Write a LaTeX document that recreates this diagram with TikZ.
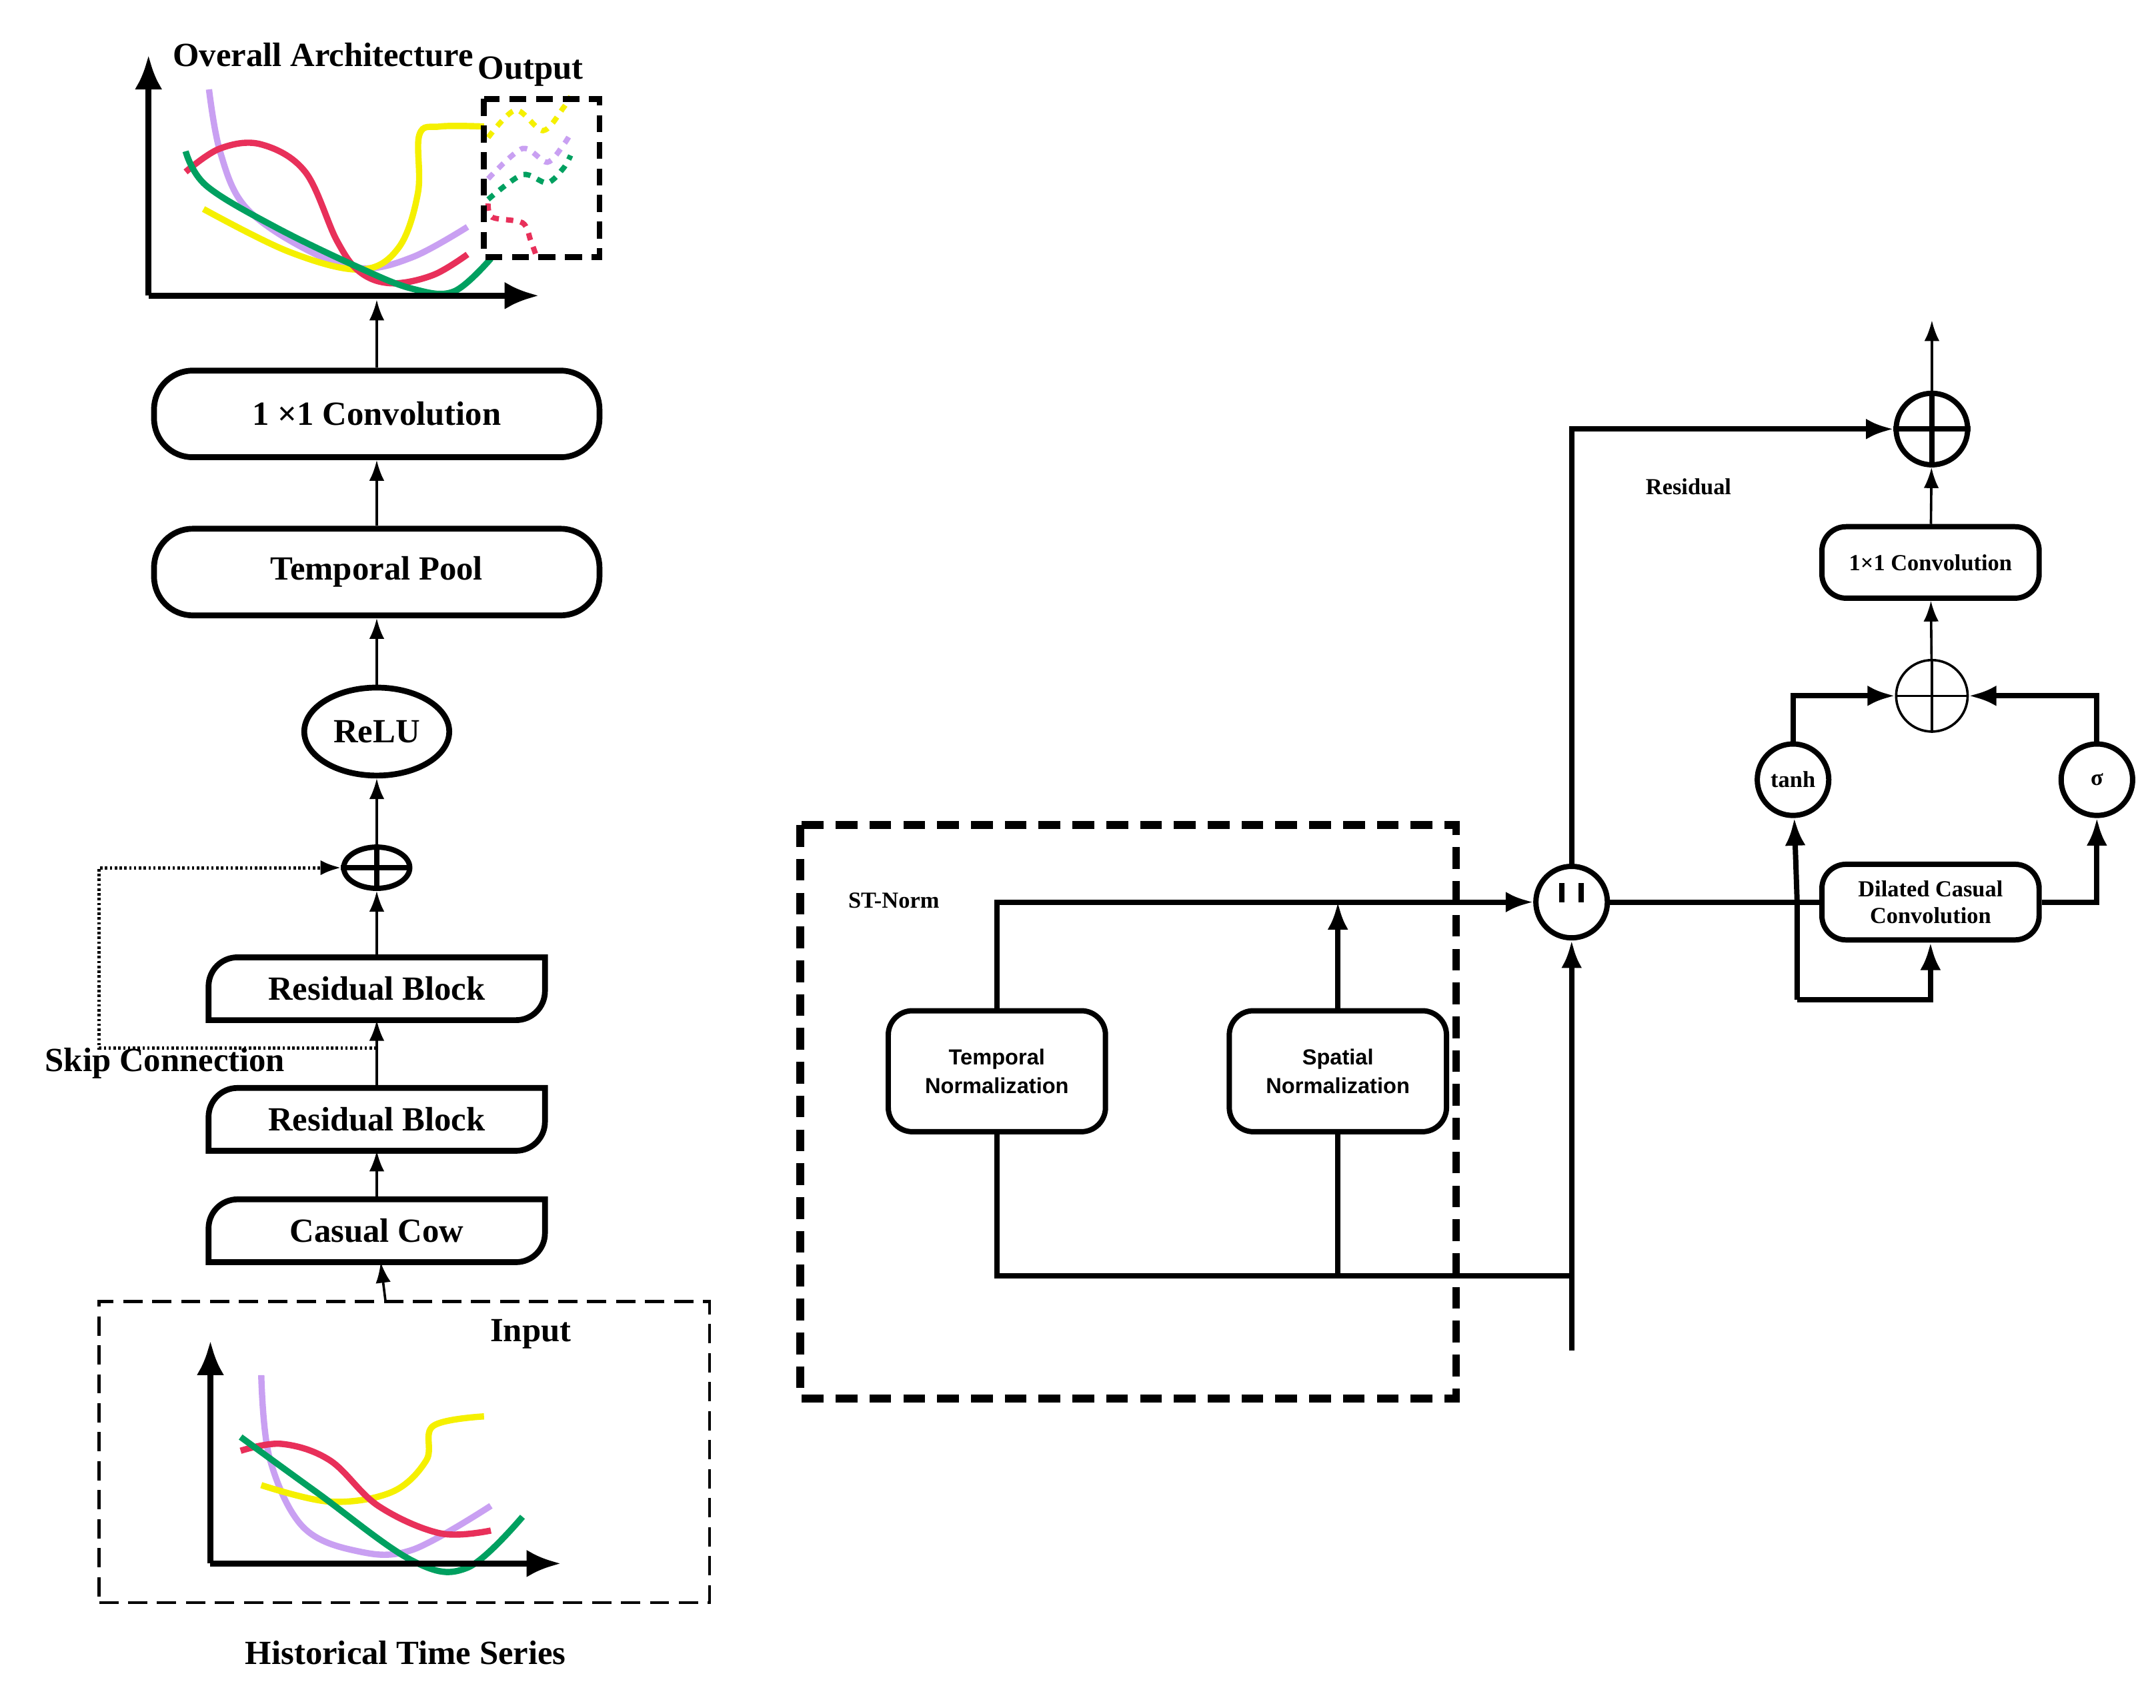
\documentclass[tikz,border=0pt]{standalone}
\usepackage{fontspec}
\setmainfont{Liberation Serif}
\newfontfamily\sansf{Liberation Sans}
\usetikzlibrary{shapes.geometric,arrows.meta,positioning,calc}
\definecolor{cyel}{HTML}{F5F000}
\definecolor{cpur}{HTML}{C9A0F2}
\definecolor{cred}{HTML}{E8305A}
\definecolor{cgrn}{HTML}{00A060}
\newcommand{\halfround}[1]{%
  \draw[line width=2.4pt] (#1.south west) -- ([yshift=-12pt]#1.north west) to[out=90,in=180] ([xshift=12pt]#1.north west)
    -- (#1.north east) -- ([yshift=12pt]#1.south east) to[out=-90,in=0] ([xshift=-12pt]#1.south east) -- cycle;}

\begin{document}
\begin{tikzpicture}[x=0.02cm, y=-0.02cm, font=\bfseries,
  pill/.style={rectangle, rounded corners=16pt, draw, line width=2.4pt, minimum width=6.48cm, minimum height=1.26cm, font=\fontsize{14}{16}\selectfont\bfseries},
  blk/.style={rectangle, minimum width=4.88cm, minimum height=0.9cm, font=\fontsize{14}{16}\selectfont\bfseries},
  rbox/.style={rectangle, rounded corners=10pt, draw, line width=2.2pt, minimum width=3.16cm, align=center, font=\fontsize{9.5}{11}\selectfont\bfseries},
  nbox/.style={rbox, minimum height=1.76cm, font=\sansf\fontsize{9}{12}\selectfont\bfseries},
  circ/.style={circle, draw, line width=2.2pt, minimum size=1.04cm, inner sep=0pt, font=\fontsize{9.5}{11}\selectfont\bfseries},
  arr/.style={-{Latex[length=3mm,width=2.2mm]}, line width=1pt},
  tarr/.style={-{Latex[length=4mm,width=3mm]}, line width=2.2pt},
  axis/.style={-{Latex[length=5mm,width=4mm]}, line width=2.6pt},
  crv/.style={line width=2.6pt, smooth, tension=0.6}]
\useasboundingbox (0,0) rectangle (1568,1242);

% Left column
\node[pill] (conv) at (274,301) {1 ×1 Convolution};
\node[pill] (pool) at (274,416) {Temporal Pool};
\node[ellipse, draw, line width=2.4pt, minimum width=2.08cm, minimum height=1.28cm, font=\fontsize{14}{16}\selectfont\bfseries] (relu) at (274,532) {ReLU};
\node[ellipse, draw, line width=2.2pt, minimum width=0.96cm, minimum height=0.6cm, inner sep=0pt] (add) at (274,631) {};
\draw[line width=2.2pt] (add.west) -- (add.east) (add.north) -- (add.south);
\node[blk] (res2) at (274,719) {Residual Block};
\node[blk] (res1) at (274,814) {Residual Block};
\node[blk] (cow) at (274,895) {Casual Cow};
\halfround{res2}\halfround{res1}\halfround{cow}
\node[draw, dashed, line width=1.2pt, minimum width=8.88cm, minimum height=4.38cm, dash pattern=on 8pt off 4pt] (inbox) at (294,1056) {};
\node[font=\fontsize{14}{16}\selectfont\bfseries] at (386,970) {Input};
\node[font=\fontsize{14}{16}\selectfont\bfseries] at (295,1202) {Historical Time Series};
\node[font=\fontsize{14}{16}\selectfont\bfseries] at (235,40) {Overall Architecture};
\node[font=\fontsize{14}{16}\selectfont\bfseries] at (386,52) {Output};
\node[font=\fontsize{14}{16}\selectfont\bfseries] at (120,773) {Skip Connection};
\coordinate (chart) at (274,218);
\coordinate (skip) at (274,762);

\draw[arr] (conv) -- (chart);
\draw[arr] (pool) -- (conv);
\draw[arr] (relu) -- (pool);
\draw[arr] (add) -- (relu);
\draw[arr] (res2) -- (add);
\draw[arr] (res1) -- (res2);
\draw[arr] (cow) -- (res1);
\draw[arr] (inbox) -- (cow);
\draw[arr, densely dotted, line width=1.4pt] (skip) -- (72,762) -- (72,631) -- (add);

% Top chart
\draw[crv, cpur] plot coordinates {(152,65) (160,110) (178,150) (220,180) (262,195) (300,187) (340,165)};
\draw[crv, cyel] plot coordinates {(148,152) (210,183) (262,196) (290,180) (304,140) (305,98) (320,92) (352,92)};
\draw[crv, cred] plot coordinates {(135,125) (160,108) (190,105) (222,125) (245,175) (262,198) (285,206) (315,200) (340,185)};
\draw[crv, cgrn] plot coordinates {(135,110) (150,135) (200,165) (262,195) (300,210) (330,212) (357,188)};
\draw[line width=2.2pt, dashed, cyel] plot[smooth] coordinates {(355,100) (375,80) (395,95) (410,78) (415,70)};
\draw[line width=2.2pt, dashed, cpur] plot[smooth] coordinates {(355,130) (380,108) (398,118) (410,105) (415,97)};
\draw[line width=2.2pt, dashed, cgrn] plot[smooth] coordinates {(355,145) (380,127) (398,133) (410,122) (415,113)};
\draw[line width=2.2pt, dashed, cred] plot[smooth] coordinates {(355,148) (358,158) (380,162) (386,175) (390,186)};
\draw[line width=2.4pt, dash pattern=on 7pt off 4pt] (352,72) rectangle (436,187);
\draw[axis] (108,215) -- (108,40);
\draw[axis] (108,215) -- (392,215);

% Bottom chart
\draw[crv, cpur] plot coordinates {(190,1000) (196,1060) (220,1110) (260,1128) (300,1127) (357,1095)};
\draw[crv, cyel] plot coordinates {(190,1080) (240,1092) (285,1085) (310,1062) (315,1037) (352,1030)};
\draw[crv, cred] plot coordinates {(175,1055) (205,1050) (240,1062) (275,1095) (320,1115) (357,1113)};
\draw[crv, cgrn] plot coordinates {(175,1045) (230,1085) (300,1135) (340,1140) (380,1103)};
\draw[axis] (153,1137) -- (153,975);
\draw[axis] (153,1137) -- (408,1137);

% ST-Norm block
\draw[line width=3.2pt, dash pattern=on 9pt off 5pt] (582,600) rectangle (1059,1017);
\node[font=\fontsize{9.5}{11}\selectfont\bfseries] at (650,655) {ST-Norm};
\node[nbox] (tnorm) at (725,779) {Temporal\\Normalization};
\node[nbox] (snorm) at (973,779) {Spatial\\Normalization};
\node[circ] (cat) at (1143,656) {};
\draw[line width=2.2pt] ([xshift=-4pt]cat.center) -- ++(0,-14) ([xshift=4pt]cat.center) -- ++(0,-14);
\coordinate (in) at (1143,982);
\coordinate (split) at (1143,928);
\draw[tarr] (in) -- (cat);
\draw[line width=2.2pt] (split) -| (tnorm);
\draw[line width=2.2pt] (snorm.south) -- (snorm.south |- split);
\draw[tarr] (tnorm.north) |- (cat);
\draw[tarr] (snorm.north) -- (snorm.north |- cat);

% Gated block
\node[circ] (top) at (1405,312) {};
\draw[line width=2.2pt] (top.north) -- (top.south) (top.west) -- (top.east);
\node[font=\fontsize{9.5}{11}\selectfont\bfseries] at (1228,354) {Residual};
\node[rbox, minimum height=1.04cm] (conv1) at (1404,409) {1×1 Convolution};
\node[circle, draw, line width=1pt, minimum size=1.04cm, inner sep=0pt] (mul) at (1405,506) {};
\draw[line width=1pt] (mul.north) -- (mul.south) (mul.west) -- (mul.east);
\node[circ] (tanh) at (1304,567) {tanh};
\node[circ] (sig) at (1525,567) {σ};
\node[rbox, minimum height=1.1cm] (dil) at (1404,656) {Dilated Casual\\Convolution};
\coordinate (out) at (1405,233);
\coordinate (fork) at (1307,656);
\coordinate (low) at (1307,727);
\draw[tarr] (cat.north) |- (top);
\draw[line width=2.2pt] (cat) -- (dil);
\draw[tarr] (low) -- (fork) -- (tanh);
\draw[tarr] (low) -| (dil);
\draw[tarr] (dil) -| (sig);
\draw[tarr] (tanh) |- (mul);
\draw[tarr] (sig) |- (mul);
\draw[arr] (mul) -- (conv1);
\draw[arr] (conv1) -- (top);
\draw[arr] (top) -- (out);
\end{tikzpicture}
\end{document}
